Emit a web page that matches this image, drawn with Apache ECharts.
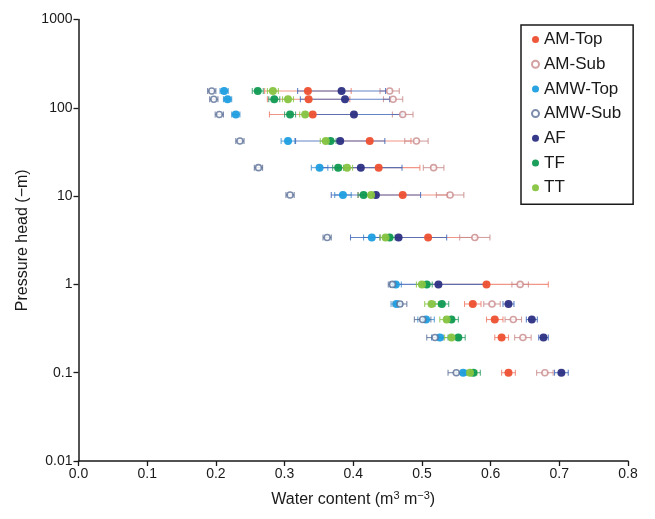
<!DOCTYPE html>
<html>
<head>
<meta charset="utf-8">
<script src="https://cdn.jsdelivr.net/npm/echarts@6/dist/echarts.min.js"></script>
<style>
html,body{margin:0;padding:0;background:#fff;}
#c{width:655px;height:519px;}
</style>
</head>
<body>
<div id="c"></div>
<script>
// Pressure head levels (−m)
const pressure = [155, 125, 84, 42, 21, 10.3, 3.4, 1, 0.6, 0.4, 0.25, 0.1];
// Water content means (m3 m-3)
const amTop  = [0.334, 0.335, 0.341, 0.424, 0.437, 0.472, 0.509, 0.594, 0.574, 0.606, 0.616, 0.626];
const amSub  = [0.453, 0.458, 0.472, 0.492, 0.517, 0.541, 0.577, 0.643, 0.602, 0.633, 0.647, 0.679];
const amwTop = [0.212, 0.217, 0.229, 0.305, 0.351, 0.385, 0.427, 0.462, 0.463, 0.506, 0.526, 0.560];
const amwSub = [0.194, 0.197, 0.205, 0.235, 0.262, 0.308, 0.362, 0.457, 0.468, 0.501, 0.519, 0.550];
const af     = [0.383, 0.388, 0.401, 0.381, 0.411, 0.433, 0.466, 0.524, 0.626, 0.660, 0.677, 0.703];
const tf     = [0.261, 0.285, 0.308, 0.367, 0.378, 0.415, 0.453, 0.507, 0.529, 0.543, 0.553, 0.575];
const tt     = [0.283, 0.305, 0.330, 0.360, 0.391, 0.426, 0.447, 0.500, 0.514, 0.536, 0.543, 0.570];
// Half-widths of error bars
const amTopErr  = [0.063, 0.060, 0.063, 0.060, 0.060, 0.065, 0.070, 0.090, 0.012, 0.012, 0.010, 0.010];
const amSubErr  = [0.014, 0.014, 0.015, 0.017, 0.015, 0.020, 0.022, 0.012, 0.012, 0.012, 0.012, 0.012];
const amwTopErr = [0.006, 0.006, 0.006, 0.010, 0.012, 0.012, 0.012, 0.008, 0.008, 0.012, 0.012, 0.010];
const amwSubErr = [0.006, 0.006, 0.006, 0.006, 0.006, 0.006, 0.006, 0.006, 0.010, 0.012, 0.012, 0.012];
const afErr     = [0.064, 0.065, 0.070, 0.065, 0.060, 0.065, 0.070, 0.070, 0.008, 0.008, 0.007, 0.010];
const tfErr     = [0.008, 0.008, 0.008, 0.008, 0.008, 0.008, 0.008, 0.008, 0.010, 0.010, 0.010, 0.010];
const ttErr     = [0.008, 0.008, 0.008, 0.008, 0.008, 0.008, 0.008, 0.008, 0.010, 0.010, 0.010, 0.010];

const seriesNames = ['AM-Top', 'AM-Sub', 'AMW-Top', 'AMW-Sub', 'AF', 'TF', 'TT'];
const yTickLabels = ['0.01', '0.1', '1', '10', '100', '1000'];

const defs = [
  {name:'AM-Top',  vals:amTop,  err:amTopErr,  color:'#ee5030', hollow:false, errColor:'#ee7a68'},
  {name:'AM-Sub',  vals:amSub,  err:amSubErr,  color:'#c9898c', hollow:true,  errColor:'#c98a8a'},
  {name:'AMW-Top', vals:amwTop, err:amwTopErr, color:'#1f9ee0', hollow:false, errColor:'#3d8fd0'},
  {name:'AMW-Sub', vals:amwSub, err:amwSubErr, color:'#5b6f96', hollow:true,  errColor:'#5b6f96'},
  {name:'AF',      vals:af,     err:afErr,     color:'#2b2f82', hollow:false, errColor:'#3c64b8'},
  {name:'TF',      vals:tf,     err:tfErr,     color:'#0f9a52', hollow:false, errColor:'#2a9a60'},
  {name:'TT',      vals:tt,     err:ttErr,     color:'#86c441', hollow:false, errColor:'#86c441'}
];

const series = [];
defs.forEach(d => {
  series.push({
    name: d.name + ' error',
    type: 'custom',
    z: 1,
    silent: true,
    encode: {x: [0, 1], y: 2},
    data: d.vals.map((v, i) => [v - d.err[i], v + d.err[i], pressure[i]]),
    renderItem: (params, api) => {
      const lo = api.coord([api.value(0), api.value(2)]);
      const hi = api.coord([api.value(1), api.value(2)]);
      const h = 3;
      const st = {stroke: d.errColor, lineWidth: 1.1, opacity: 0.8};
      return {type: 'group', children: [
        {type: 'line', shape: {x1: lo[0], y1: lo[1], x2: hi[0], y2: hi[1]}, style: st},
        {type: 'line', shape: {x1: lo[0], y1: lo[1] - h, x2: lo[0], y2: lo[1] + h}, style: st},
        {type: 'line', shape: {x1: hi[0], y1: hi[1] - h, x2: hi[0], y2: hi[1] + h}, style: st}
      ]};
    }
  });
});
defs.forEach(d => {
  series.push({
    name: d.name,
    type: 'scatter',
    z: 3,
    symbol: 'circle',
    symbolSize: d.hollow ? 6 : 8,
    itemStyle: d.hollow
      ? {color: '#ffffff', borderColor: d.color, borderWidth: 1.6}
      : {color: d.color, opacity: 0.95},
    data: d.vals.map((v, i) => [v, pressure[i]])
  });
});

const chart = echarts.init(document.getElementById('c'), null, {renderer: 'canvas'});
chart.setOption({
  animation: false,
  backgroundColor: '#ffffff',
  textStyle: {fontFamily: 'Liberation Sans, Arial, sans-serif'},
  grid: {left: 78.5, right: 27, top: 19.5, bottom: 58, containLabel: false},
  legend: {
    data: seriesNames,
    orient: 'vertical',
    left: 521,
    top: 25,
    itemGap: 7.7,
    itemWidth: 7,
    itemHeight: 7,
    itemTextGap: 6,
    icon: 'circle',
    padding: [6, 12, 8, 10],
    borderColor: '#1a1a1a',
    borderWidth: 1.5,
    textStyle: {fontSize: 17, color: '#1a1a1a', fontFamily: 'Liberation Sans, Arial, sans-serif'}
  },
  xAxis: {
    type: 'value',
    min: 0, max: 0.8, interval: 0.1,
    name: 'Water content (m{sup|3} m{sup|−3})',
    nameLocation: 'middle',
    nameGap: 29,
    nameTextStyle: {
      fontSize: 16, color: '#1a1a1a', lineHeight: 20,
      rich: {sup: {fontSize: 11, color: '#1a1a1a', verticalAlign: 'top', lineHeight: 14}}
    },
    axisLine: {show: true, onZero: false, lineStyle: {color: '#1a1a1a', width: 1.5}},
    axisTick: {show: true, inside: false, length: 5, lineStyle: {color: '#1a1a1a', width: 1.3}},
    axisLabel: {fontSize: 14, color: '#1a1a1a', margin: 6, formatter: v => v.toFixed(1)},
    splitLine: {show: false}
  },
  yAxis: {
    type: 'log',
    logBase: 10,
    min: 0.01, max: 1000,
    name: 'Pressure head (−m)',
    nameLocation: 'middle',
    nameGap: 48,
    nameTextStyle: {fontSize: 16, color: '#1a1a1a'},
    axisLine: {show: true, onZero: false, lineStyle: {color: '#1a1a1a', width: 1.5}},
    axisTick: {show: true, inside: false, length: 5, lineStyle: {color: '#1a1a1a', width: 1.3}},
    minorTick: {show: false},
    axisLabel: {
      fontSize: 14, color: '#1a1a1a', margin: 6,
      formatter: v => yTickLabels[Math.round(Math.log10(v)) + 2]
    },
    splitLine: {show: false}
  },
  series: series
});
</script>
</body>
</html>
